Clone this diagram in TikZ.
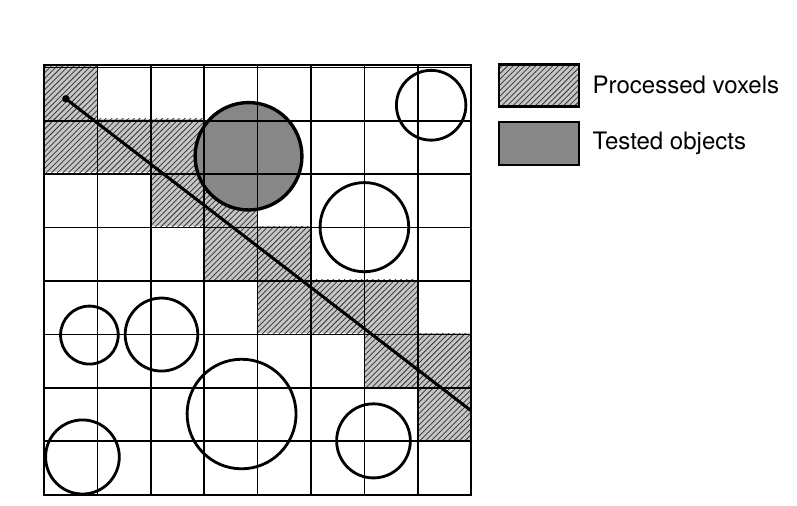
\documentclass[tikz,border=0pt]{standalone}
\usepackage{fontspec}
\setmainfont{TeX Gyre Heros}
\usetikzlibrary{patterns}

\begin{document}
\begin{tikzpicture}[x=1cm, y=1.0056cm,
    every node/.style={font=\fontsize{12.8}{15}\selectfont},
    voxel/.style={preaction={fill=gray!45}, pattern=north east lines, pattern color=black!80},
    tested/.style={fill=black!47},
    object/.style={line width=1.5pt}]
  \useasboundingbox (-0.824,-0.212) rectangle (14.101,9.210);
  % processed voxels, given as column/row counted from the top
  \foreach \c/\r in {0/0,0/1,1/1,2/1,2/2,3/2,3/3,4/3,4/4,5/4,6/4,6/5,7/5,7/6}
    \fill[voxel] (\c,7-\r) rectangle ++(1,1);
  \fill[tested] (3.83,6.3) circle[radius=1];
  \draw[line width=0.8pt] (0,0) grid (8,8);
  \draw[line width=1pt] (0,0) rectangle (8,8);
  % objects
  \draw[object, line width=1.8pt] (3.83,6.3) circle[radius=1];
  \draw[object] (7.25,7.25) circle[radius=0.65];
  \draw[object] (6,4.98) circle[radius=0.83];
  \draw[object] (0.85,2.97) circle[radius=0.54];
  \draw[object] (2.2,2.98) circle[radius=0.68];
  \draw[object] (3.7,1.5) circle[radius=1.02];
  \draw[object] (6.17,1) circle[radius=0.69];
  \draw[object] (0.72,0.7) circle[radius=0.69];
  % ray
  \coordinate (raystart) at (0.41,7.37);
  \coordinate (rayend) at (8,1.56);
  \draw[line width=1.6pt] (raystart) -- (rayend);
  \fill (raystart) circle[radius=0.07];
  % legend
  \node[draw, line width=1.2pt, voxel, minimum width=1.5cm, minimum height=0.79cm] (procbox) at (9.275,7.618) {};
  \node[draw, line width=1.2pt, tested, minimum width=1.5cm, minimum height=0.81cm] (testbox) at (9.275,6.541) {};
  \node[anchor=west] (proclabel) at (10.15,7.628) {Processed voxels};
  \node[anchor=west] (testlabel) at (10.15,6.547) {Tested objects};
\end{tikzpicture}
\end{document}
